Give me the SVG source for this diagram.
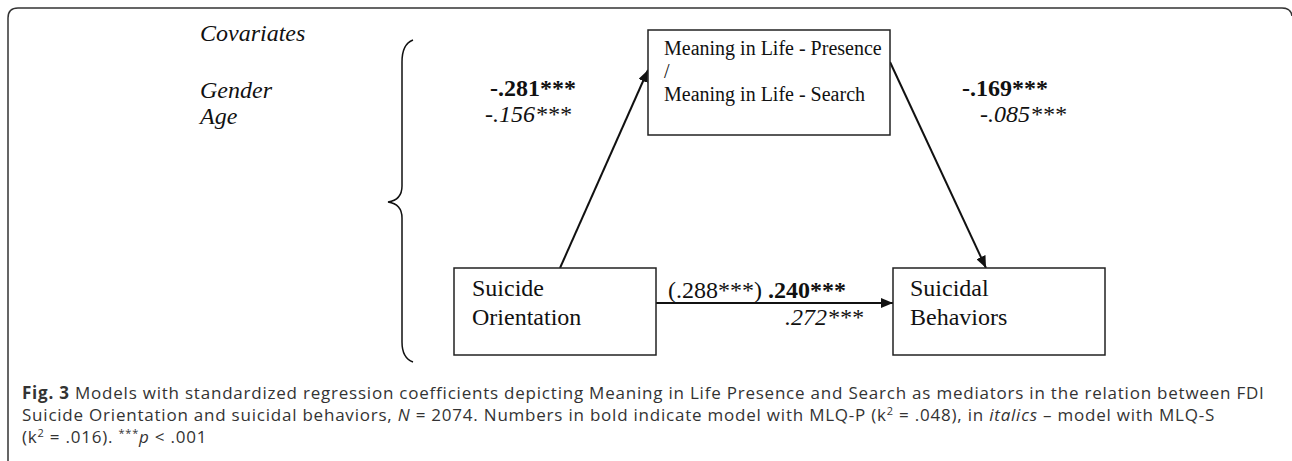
<svg xmlns="http://www.w3.org/2000/svg" width="1292" height="461" viewBox="0 0 1292 461">
<defs>
<marker id="ah" viewBox="0 0 12 10" refX="12" refY="5" markerWidth="12" markerHeight="10" markerUnits="userSpaceOnUse" orient="auto"><path d="M0,0 L12,5 L0,10 z" fill="#111"/></marker>
<style>
.t{font-family:"Liberation Serif","Times New Roman",serif;font-size:24px;fill:#111}
.m{font-family:"Liberation Serif","Times New Roman",serif;font-size:20px;fill:#111}
.i{font-style:italic}
.b{font-weight:bold}
.box{fill:#fff;stroke:#222;stroke-width:1.5}
.ln{fill:none;stroke:#111;stroke-width:2}
.cap{font-family:"Open Sans","Noto Sans",sans-serif;font-size:17px;letter-spacing:0.78px;fill:#333}
</style>
</defs>
<rect width="1292" height="461" fill="#fff"/>
<path d="M8,461 L8,18 Q8,8 18,8 L1282,8 Q1291,8 1292,16" fill="none" stroke="#333" stroke-width="1.5"/>
<g id="covariates">
<text class="t i" x="200" y="41">Covariates</text>
<text class="t i" x="200" y="98">Gender</text>
<text class="t i" x="200" y="124">Age</text>
<path d="M413,40 Q402,44 402,62 L402,186 Q402,200 388,202 Q402,204 402,218 L402,342 Q402,358 413,362" fill="none" stroke="#111" stroke-width="1.5"/>
</g>
<g id="connectors">
<line class="ln" x1="560" y1="268" x2="648" y2="70" marker-end="url(#ah)"/>
<line class="ln" x1="890" y1="62" x2="986" y2="268" marker-end="url(#ah)"/>
<line class="ln" x1="656" y1="303" x2="893" y2="303" marker-end="url(#ah)"/>
<text class="t b" x="490" y="96">-.281***</text>
<text class="t i" x="485" y="122">-.156***</text>
<text class="t b" x="962" y="96">-.169***</text>
<text class="t i" x="980" y="122">-.085***</text>
<text class="t" x="668" y="298">(.288***) <tspan class="b">.240***</tspan></text>
<text class="t i" x="785" y="325">.272***</text>
</g>
<g id="mediator">
<rect class="box" x="648" y="30" width="242" height="105"/>
<text class="m" x="664" y="55">Meaning in Life - Presence</text>
<text class="m" x="664" y="78" font-size="15">/</text>
<text class="m" x="664" y="101">Meaning in Life - Search</text>
</g>
<g id="suicide-orientation">
<rect class="box" x="454" y="268" width="202" height="87"/>
<text class="t" x="472" y="296">Suicide</text>
<text class="t" x="472" y="325">Orientation</text>
</g>
<g id="suicidal-behaviors">
<rect class="box" x="893" y="268" width="212" height="87"/>
<text class="t" x="910" y="296">Suicidal</text>
<text class="t" x="910" y="325">Behaviors</text>
</g>
<g id="caption">
<text class="cap" x="22" y="399"><tspan font-weight="bold">Fig. 3</tspan> Models with standardized regression coefficients depicting Meaning in Life Presence and Search as mediators in the relation between FDI</text>
<text class="cap" x="22" y="421">Suicide Orientation and suicidal behaviors, <tspan font-style="italic">N</tspan> = 2074. Numbers in bold indicate model with MLQ-P (k<tspan dy="-6" font-size="11">2</tspan><tspan dy="6"> = .048), in </tspan><tspan font-style="italic">italics</tspan> – model with MLQ-S</text>
<text class="cap" x="22" y="443">(k<tspan dy="-6" font-size="11">2</tspan><tspan dy="6"> = .016). </tspan><tspan dy="-6" font-size="11">***</tspan><tspan dy="6" font-style="italic">p</tspan> &lt; .001</text>
</g>
</svg>
